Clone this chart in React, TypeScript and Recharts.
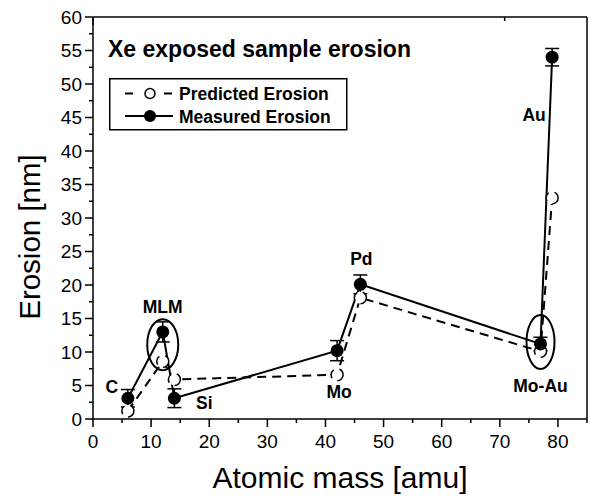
import React from 'react';
import { LineChart, Line, XAxis, YAxis, ErrorBar, ReferenceDot, Legend } from 'recharts';

const FONT = '"Liberation Sans", Arial, Helvetica, sans-serif';

const samples = ['C', 'MLM', 'Si', 'Mo', 'Pd', 'Mo-Au', 'Au'];
const atomicMass = [6, 12, 14, 42, 46, 77, 79];
const predictedErosion = [1.2, 8.6, 5.9, 6.6, 18.1, 10.1, 33];
const measuredErosion = [3.1, 13, 3.1, 10.2, 20.1, 11.2, 54];
const measuredError = [1.3, 1.5, 1.4, 1.5, 1.4, 1.0, 1.3];

const xTicks = [0, 5, 10, 15, 20, 25, 30, 35, 40, 45, 50, 55, 60, 65, 70, 75, 80, 85];
const yTicks = [
  0, 2.5, 5, 7.5, 10, 12.5, 15, 17.5, 20, 22.5, 25, 27.5, 30, 32.5, 35, 37.5, 40, 42.5, 45, 47.5, 50,
  52.5, 55, 57.5, 60,
];

// the two circled groups (MLM and Mo-Au)
const groupCentres = [
  { x: 12, y: 11.1 },
  { x: 77, y: 11.5 },
];

// pixel offset of each sample label from its measured point
const labelOffset: Record<string, [number, number]> = {
  C: [-16, -12],
  MLM: [0, -25],
  Si: [30, 4],
  Mo: [2, 41],
  Pd: [1, -26],
  'Mo-Au': [0, 42],
  Au: [-18, 57],
};
const ellipseSize = [
  [15.5, 25.5],
  [14, 27],
];

const rows = samples.map((name, i) => ({
  name,
  mass: atomicMass[i],
  predicted: predictedErosion[i],
  measured: measuredErosion[i],
  measuredErr: measuredError[i],
}));

const BottomTick = (props: any) => {
  const { x, y, payload } = props;
  const major = payload.value % 10 === 0;
  return (
    <g>
      <line x1={x} y1={y} x2={x} y2={y + (major ? 8 : 4)} stroke="#000" strokeWidth={1.5} />
      {major && (
        <text x={x} y={y + 29} textAnchor="middle" fontSize={19} fontFamily={FONT} fill="#000">
          {payload.value}
        </text>
      )}
    </g>
  );
};

const TopTick = (props: any) => {
  const { x, y, payload } = props;
  const major = payload.value % 10 === 0;
  return <line x1={x} y1={y} x2={x} y2={y + (major ? 8 : 4)} stroke="#000" strokeWidth={1.5} />;
};

const LeftTick = (props: any) => {
  const { x, y, payload } = props;
  const major = payload.value % 5 === 0;
  return (
    <g>
      <line x1={x} y1={y} x2={x - (major ? 8 : 4)} y2={y} stroke="#000" strokeWidth={1.5} />
      {major && (
        <text x={x - 11} y={y} dy="0.36em" textAnchor="end" fontSize={19} fontFamily={FONT} fill="#000">
          {payload.value}
        </text>
      )}
    </g>
  );
};

const RightTick = (props: any) => {
  const { x, y, payload } = props;
  const major = payload.value % 5 === 0;
  return <line x1={x} y1={y} x2={x - (major ? 8 : 4)} y2={y} stroke="#000" strokeWidth={1.5} />;
};

const YTitle = (props: any) => {
  const vb = props.viewBox || { x: 0, y: 17, width: 93, height: 402 };
  const cx = vb.x + 29;
  const cy = vb.y + vb.height / 2 + 19;
  return (
    <text
      x={cx}
      y={cy}
      dy="0.36em"
      transform={`rotate(-90, ${cx}, ${cy})`}
      textAnchor="middle"
      fontSize={29.5}
      fontFamily={FONT}
      fill="#000"
    >
      Erosion [nm]
    </text>
  );
};

const XTitle = (props: any) => {
  const vb = props.viewBox || { x: 93, y: 419, width: 494, height: 78 };
  return (
    <text x={vb.x + vb.width / 2} y={vb.y + 69} textAnchor="middle" fontSize={30} fontFamily={FONT} fill="#000">
      Atomic mass [amu]
    </text>
  );
};

const LegendBox = (props: any) => {
  const payload = props.payload || [];
  const pred = payload.find((p: any) => p.dataKey === 'predicted');
  const meas = payload.find((p: any) => p.dataKey === 'measured');
  return (
    <svg width={340} height={110} style={{ display: 'block' }}>
      <text x={8} y={27} fontSize={23} fontWeight={700} fontFamily={FONT} fill="#000">
        Xe exposed sample erosion
      </text>
      <rect x={9.75} y={48.75} width={237} height={51} fill="#fff" stroke="#000" strokeWidth={1.5} />
      <line x1={25} y1={63.5} x2={33} y2={63.5} stroke="#000" strokeWidth={2} />
      <line x1={64} y1={63.5} x2={72} y2={63.5} stroke="#000" strokeWidth={2} />
      <circle cx={50} cy={63.5} r={5} fill="#fff" stroke="#000" strokeWidth={1.5} />
      <text x={79} y={70} fontSize={17.5} fontWeight={700} fontFamily={FONT} fill="#000">
        {pred ? pred.value : 'Predicted Erosion'}
      </text>
      <line x1={25} y1={86} x2={73} y2={86} stroke="#000" strokeWidth={2} />
      <circle cx={50} cy={86} r={6} fill="#000" />
      <text x={79} y={92.5} fontSize={17.5} fontWeight={700} fontFamily={FONT} fill="#000">
        {meas ? meas.value : 'Measured Erosion'}
      </text>
    </svg>
  );
};

const App = () => {
  return (
    <div style={{ position: 'absolute', left: 0, top: 0, width: 590, height: 497, background: '#fff' }}>
      <LineChart width={590} height={497} data={rows} margin={{ top: 0, right: 0, bottom: 0, left: 0 }}>
        <XAxis
          xAxisId="b"
          type="number"
          dataKey="mass"
          domain={[0, 85]}
          ticks={xTicks}
          interval={0}
          height={78}
          tickSize={0}
          tickMargin={0}
          tickLine={false}
          tick={<BottomTick />}
          axisLine={{ stroke: '#000', strokeWidth: 1.5 }}
          label={XTitle}
        />
        <XAxis
          xAxisId="t"
          orientation="top"
          type="number"
          domain={[0, 85]}
          ticks={xTicks}
          interval={0}
          height={17}
          tickSize={0}
          tickMargin={0}
          tickLine={false}
          tick={<TopTick />}
          axisLine={{ stroke: '#000', strokeWidth: 1.5 }}
        />
        <YAxis
          yAxisId="l"
          type="number"
          domain={[0, 60]}
          ticks={yTicks}
          interval={0}
          width={93}
          tickSize={0}
          tickMargin={0}
          tickLine={false}
          tick={<LeftTick />}
          axisLine={{ stroke: '#000', strokeWidth: 1.5 }}
          label={YTitle}
        />
        <YAxis
          yAxisId="r"
          orientation="right"
          type="number"
          domain={[0, 60]}
          ticks={yTicks}
          interval={0}
          width={3}
          tickSize={0}
          tickMargin={0}
          tickLine={false}
          tick={<RightTick />}
          axisLine={{ stroke: '#000', strokeWidth: 1.5 }}
        />
        <Legend
          layout="horizontal"
          verticalAlign="middle"
          align="center"
          wrapperStyle={{ left: 100, top: 30, width: 340, height: 110 }}
          content={LegendBox}
        />
        <Line
          xAxisId="b"
          yAxisId="l"
          dataKey="predicted"
          name="Predicted Erosion"
          stroke="#000"
          strokeWidth={2}
          strokeDasharray="9 6"
          dot={{ r: 6, fill: '#fff', stroke: '#000', strokeWidth: 1.5 }}
          activeDot={false}
          isAnimationActive={false}
        />
        <Line
          xAxisId="b"
          yAxisId="l"
          dataKey="measured"
          name="Measured Erosion"
          stroke="#000"
          strokeWidth={2}
          dot={{ r: 6.5, fill: '#000', stroke: '#000', strokeWidth: 0 }}
          activeDot={false}
          isAnimationActive={false}
        >
          <ErrorBar dataKey="measuredErr" direction="y" width={7} stroke="#000" strokeWidth={1.5} />
        </Line>
        {groupCentres.map((g, i) => (
          <ReferenceDot
            key={`grp-${i}`}
            xAxisId="b"
            yAxisId="l"
            x={g.x}
            y={g.y}
            r={1}
            shape={(p: any) => (
              <ellipse
                cx={p.cx}
                cy={p.cy}
                rx={ellipseSize[i][0]}
                ry={ellipseSize[i][1]}
                fill="none"
                stroke="#000"
                strokeWidth={2}
              />
            )}
          />
        ))}
        {samples.map((name, i) => (
          <ReferenceDot
            key={`lbl-${name}`}
            xAxisId="b"
            yAxisId="l"
            x={atomicMass[i]}
            y={measuredErosion[i]}
            r={1}
            shape={(p: any) => (
              <text
                x={p.cx + labelOffset[name][0]}
                y={p.cy + labelOffset[name][1]}
                dy="0.36em"
                textAnchor="middle"
                fontSize={17.5}
                fontWeight={700}
                fontFamily={FONT}
                fill="#000"
              >
                {name}
              </text>
            )}
          />
        ))}
      </LineChart>
    </div>
  );
};

export default App;
